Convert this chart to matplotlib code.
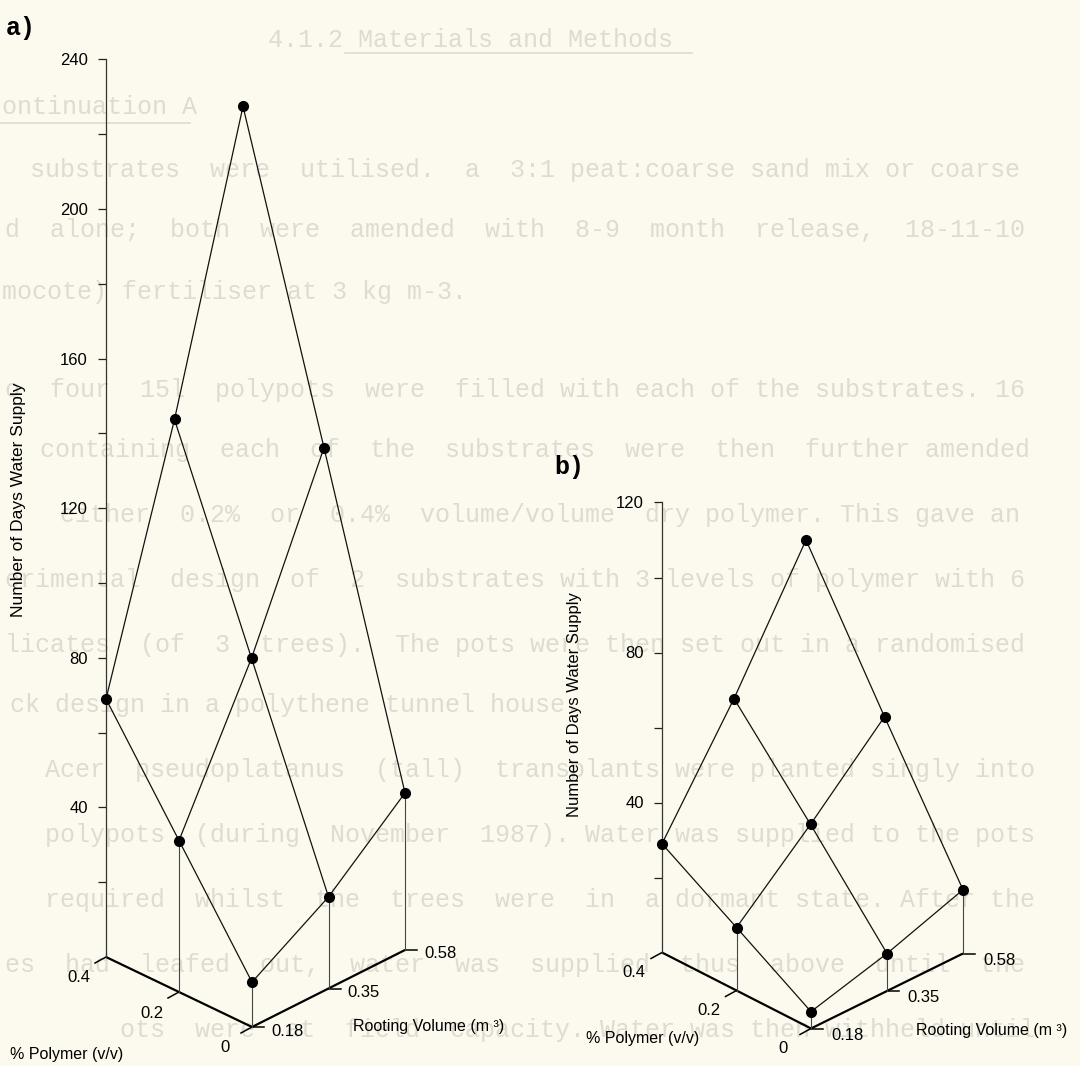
import numpy as np
import matplotlib.pyplot as plt

W, H = 1080, 1066

# factor levels (rows: polymer from back to front, cols: rooting volume)
polymer_labels = ['0.4', '0.2', '0']
volume_labels = ['0.18', '0.35', '0.58']

# number of days of water supply
days_a = np.array([[69.0, 134.5, 209.0],
                   [40.5, 79.5, 126.0],
                   [12.0, 24.5, 42.0]])
days_b = np.array([[29.0, 57.7, 90.0],
                   [16.8, 34.3, 53.0],
                   [4.5, 10.0, 17.0]])

ticks_a = [40, 80, 120, 160, 200, 240]
minor_a = [20, 60, 100, 140, 180, 220]
ticks_b = [40, 80, 120]
minor_b = [20, 60, 100]

ylabel = 'Number of Days Water Supply'
xlabel_p = '% Polymer (v/v)'
xlabel_v = 'Rooting Volume (m \u00b3)'

# faint text showing through from the page behind
page_lines = [
    ('4.1.2 Materials and Methods', 268, None, 40),
    ('ontinuation A', 2, None, 107),
    ('substrates were utilised.  a 3:1 peat:coarse sand mix or coarse', 30, 1025, 170),
    ('d alone;  both were amended with 8-9 month release, 18-11-10', 5, 1025, 230),
    ('mocote) fertiliser at 3 kg m-3.', 2, 470, 292),
    ('o four 15l polypots were filled with each of the substrates. 16', 5, 1025, 390),
    ('containing each of the substrates were then further amended', 40, 1025, 450),
    ('either 0.2% or 0.4% volume/volume dry polymer.  This gave an', 60, 1025, 515),
    ('erimental design of 2 substrates with 3 levels of polymer with 6', 5, 1025, 580),
    ('licates (of 3 trees).  The pots were then set out in a randomised', 5, 1030, 645),
    ('ck design in a polythene tunnel house.', 10, None, 705),
    ('Acer pseudoplatanus (tall) transplants were planted singly into', 45, 1030, 770),
    ('polypots (during November 1987).  Water was supplied to the pots', 45, 1030, 835),
    ('required whilst the trees were in a dormant state.  After the', 45, 1030, 900),
    ('es had leafed out, water was supplied thus above until the', 5, 1030, 965),
    ('ots were at field capacity.  Water was then withheld until', 120, 1030, 1030),
]

PAGE = '#fcfaee'
FAINT = '#dedcd1'
SANS = 'Liberation Sans'
MONO = 'Liberation Mono'

panel_a = dict(x0=106, y0=957, ppd=3.74, xp=73, xv=68.5, xc=4, yp=35, yv=-34.5, yc=-2,
               top=240, plab=(-27, 21), vlab=(19, 4))
panel_b = dict(x0=662, y0=952.5, ppd=3.75, xp=74.5, xv=72, xc=2, yp=38, yv=-37.5, yc=0,
               top=120, plab=(-28, 20), vlab=(20, 7))


def justify(text, n):
    words = text.split()
    gaps = len(words) - 1
    extra = n - len(''.join(words))
    if gaps <= 0 or extra <= gaps:
        return text
    base, rem = divmod(extra, gaps)
    out = ''
    for k, w in enumerate(words[:-1]):
        out += w + ' ' * (base + (1 if k < rem else 0))
    return out + words[-1]


def proj(P, i, j, d):
    # oblique projection of (polymer index, volume index, days) onto the page
    x = P['x0'] + P['xp'] * i + P['xv'] * j + P['xc'] * i * j
    y = d - (P['yp'] * i + P['yv'] * j + P['yc'] * i * j) / P['ppd']
    return x, y


def draw_panel(fig, days, ticks, minor, P):
    ax = fig.add_axes([0, 0, 1, 1])
    ax.set_xlim(0, W)
    ax.set_ylim((P['y0'] - H) / P['ppd'], P['y0'] / P['ppd'])
    ax.patch.set_alpha(0)
    for s in ['top', 'right', 'bottom']:
        ax.spines[s].set_visible(False)
    ax.spines['left'].set_position(('data', P['x0']))
    ax.spines['left'].set_bounds(0, P['top'])
    ax.spines['left'].set_linewidth(0.9)
    ax.spines['left'].set_color('#333333')
    ax.set_xticks([])
    ax.set_yticks(ticks)
    ax.set_yticks(minor, minor=True)
    ax.tick_params(axis='y', which='both', direction='out', length=6, width=0.9,
                   color='#222222', labelsize=12, pad=7)
    for t in ax.get_yticklabels():
        t.set_fontfamily(SANS)

    k = np.arange(3)
    ppd = P['ppd']

    # floor axes
    x, y = proj(P, k, 0, 0)
    ax.plot(x, y, color='k', lw=1.6, solid_capstyle='butt')
    x, y = proj(P, 2, k, 0)
    ax.plot(x, y, color='k', lw=1.6, solid_capstyle='butt')

    # polymer ticks and labels
    for i in k:
        x, y = proj(P, i, 0, 0)
        ax.plot([x, x - 11], [y, y - 6 / ppd], color='k', lw=1.1)
        ax.text(x + P['plab'][0], y - P['plab'][1] / ppd, polymer_labels[i],
                ha='center', va='center', fontsize=12, family=SANS)
    # volume ticks and labels
    for j in k:
        x, y = proj(P, 2, j, 0)
        ax.plot([x, x + 12], [y, y], color='k', lw=1.1)
        ax.text(x + P['vlab'][0], y - P['vlab'][1] / ppd, volume_labels[j],
                ha='left', va='center', fontsize=12, family=SANS)

    # drop lines from the front edges
    for i, j in [(1, 0), (2, 0), (2, 1), (2, 2)]:
        x0, y0 = proj(P, i, j, 0)
        x1, y1 = proj(P, i, j, days[i, j])
        ax.plot([x0, x1], [y0, y1], color='#444444', lw=0.8)

    # response surface mesh
    for i in k:
        x, y = proj(P, i, k, days[i])
        ax.plot(x, y, color='#111111', lw=0.9)
    for j in k:
        x, y = proj(P, k, j, days[:, j])
        ax.plot(x, y, color='#111111', lw=0.9)

    I, J = np.meshgrid(k, k, indexing='ij')
    x, y = proj(P, I, J, days)
    ax.plot(x.ravel(), y.ravel(), 'o', color='k', ms=7, zorder=5)
    return ax


def main():
    fig = plt.figure(figsize=(W / 100, H / 100), dpi=100, facecolor=PAGE)

    # page text in the background
    bg = fig.add_axes([0, 0, 1, 1], zorder=-1)
    bg.set_xlim(0, W)
    bg.set_ylim(H, 0)
    bg.axis('off')
    fs = 18
    cw = 0.6 * fs * 100 / 72
    for text, x0, x1, y in page_lines:
        if x1 is not None:
            text = justify(text, int(round((x1 - x0) / cw)))
        bg.text(x0, y, text, family=MONO, fontsize=fs, color=FAINT,
                ha='left', va='center')
    bg.plot([345, 692], [53, 53], color=FAINT, lw=1.2)
    bg.plot([0, 190], [123, 123], color=FAINT, lw=1.2)

    draw_panel(fig, days_a, ticks_a, minor_a, panel_a)
    draw_panel(fig, days_b, ticks_b, minor_b, panel_b)

    # axis titles and panel letters
    def ftext(x, y, s, **kw):
        fig.text(x / W, 1 - y / H, s, ha='center', va='center', family=SANS, **kw)

    ftext(67, 1055, xlabel_p, fontsize=11.5)
    ftext(429, 1027, xlabel_v, fontsize=11.5)
    ftext(19, 500, ylabel, fontsize=12.5, rotation=90)
    ftext(643, 1038, xlabel_p, fontsize=11.5)
    ftext(992, 1030, xlabel_v, fontsize=11.5)
    ftext(574, 705, ylabel, fontsize=12, rotation=90)

    fig.text(6 / W, 1 - 28 / H, 'a)', family=MONO, fontweight='bold', fontsize=18,
             ha='left', va='center')
    fig.text(554 / W, 1 - 467 / H, 'b)', family=MONO, fontweight='bold', fontsize=18,
             ha='left', va='center')

    fig.savefig('out.png', dpi=100, facecolor=PAGE)


if __name__ == '__main__':
    main()
